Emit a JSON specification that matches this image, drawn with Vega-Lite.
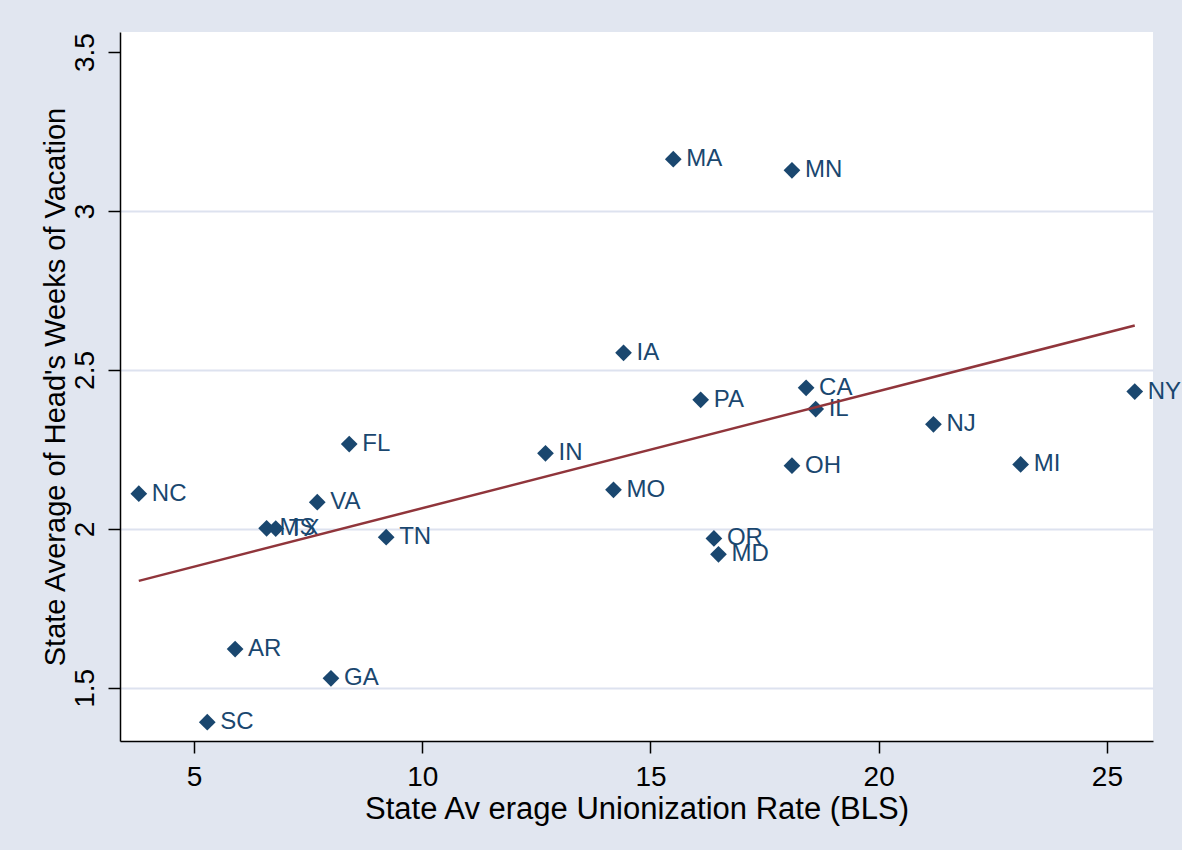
{
  "$schema": "https://vega.github.io/schema/vega-lite/v6.json",
  "width": 1033,
  "height": 709,
  "autosize": {"type": "none"},
  "padding": {"left": 120, "top": 32, "right": 29, "bottom": 109},
  "background": "#e1e6f0",
  "config": {
    "view": {"fill": "white", "stroke": null},
    "font": "Liberation Sans"
  },
  "data": {
    "values": [
      {"state": "NC", "union": 3.79, "vacation": 2.111},
      {"state": "SC", "union": 5.29, "vacation": 1.392},
      {"state": "AR", "union": 5.90, "vacation": 1.622},
      {"state": "MS", "union": 6.59, "vacation": 2.002},
      {"state": "TX", "union": 6.79, "vacation": 2.001},
      {"state": "VA", "union": 7.70, "vacation": 2.084},
      {"state": "GA", "union": 8.00, "vacation": 1.530},
      {"state": "FL", "union": 8.40, "vacation": 2.267},
      {"state": "TN", "union": 9.21, "vacation": 1.974},
      {"state": "IN", "union": 12.70, "vacation": 2.238},
      {"state": "MO", "union": 14.19, "vacation": 2.123},
      {"state": "IA", "union": 14.41, "vacation": 2.554},
      {"state": "MA", "union": 15.50, "vacation": 3.163},
      {"state": "PA", "union": 16.10, "vacation": 2.406},
      {"state": "OR", "union": 16.39, "vacation": 1.970},
      {"state": "MD", "union": 16.49, "vacation": 1.920},
      {"state": "OH", "union": 18.10, "vacation": 2.199},
      {"state": "MN", "union": 18.10, "vacation": 3.128},
      {"state": "CA", "union": 18.41, "vacation": 2.444},
      {"state": "IL", "union": 18.62, "vacation": 2.377},
      {"state": "NJ", "union": 21.20, "vacation": 2.329},
      {"state": "MI", "union": 23.11, "vacation": 2.203},
      {"state": "NY", "union": 25.61, "vacation": 2.432}
    ]
  },
  "encoding": {
    "x": {
      "field": "union",
      "type": "quantitative",
      "scale": {"domain": [3.378, 26.01], "nice": false, "zero": false},
      "axis": {
        "title": "State Av erage Unionization Rate (BLS)",
        "values": [5, 10, 15, 20, 25],
        "format": "~g",
        "grid": false,
        "domainColor": "black",
        "domainWidth": 1.5,
        "tickColor": "black",
        "tickWidth": 1.5,
        "tickSize": 12,
        "labelFontSize": 28,
        "labelColor": "black",
        "labelBaseline": "alphabetic",
        "labelPadding": 32,
        "titleFontSize": 31,
        "titleFontWeight": "normal",
        "titleColor": "black",
        "titleBaseline": "alphabetic",
        "titleY": 77
      }
    },
    "y": {
      "field": "vacation",
      "type": "quantitative",
      "scale": {"domain": [1.333, 3.563], "nice": false, "zero": false},
      "axis": {
        "title": "State Average of Head's Weeks of Vacation",
        "values": [1.5, 2, 2.5, 3, 3.5],
        "format": "~g",
        "grid": true,
        "gridColor": {"condition": {"test": "datum.value == 3.5", "value": "transparent"}, "value": "#dde2ef"},
        "gridWidth": 2,
        "domainColor": "black",
        "domainWidth": 1.5,
        "tickColor": "black",
        "tickWidth": 1.5,
        "tickSize": 12,
        "labelFontSize": 28,
        "labelColor": "black",
        "labelAngle": -90,
        "labelAlign": "center",
        "labelBaseline": "alphabetic",
        "labelPadding": 15,
        "titleFontSize": 29,
        "titleFontWeight": "normal",
        "titleColor": "black",
        "titleAngle": -90,
        "titleAlign": "center",
        "titleBaseline": "alphabetic",
        "titleX": -56,
        "titleY": 354.5
      }
    }
  },
  "layer": [
    {
      "mark": {"type": "point", "shape": "diamond", "filled": true, "size": 280, "color": "#1a476f", "opacity": 1}
    },
    {
      "mark": {"type": "text", "align": "left", "baseline": "middle", "dx": 13, "fontSize": 24, "color": "#1a476f"},
      "encoding": {"text": {"field": "state"}}
    },
    {
      "transform": [{"regression": "vacation", "on": "union"}],
      "mark": {"type": "line", "color": "#90353b", "strokeWidth": 2.5},
      "encoding": {}
    }
  ]
}
